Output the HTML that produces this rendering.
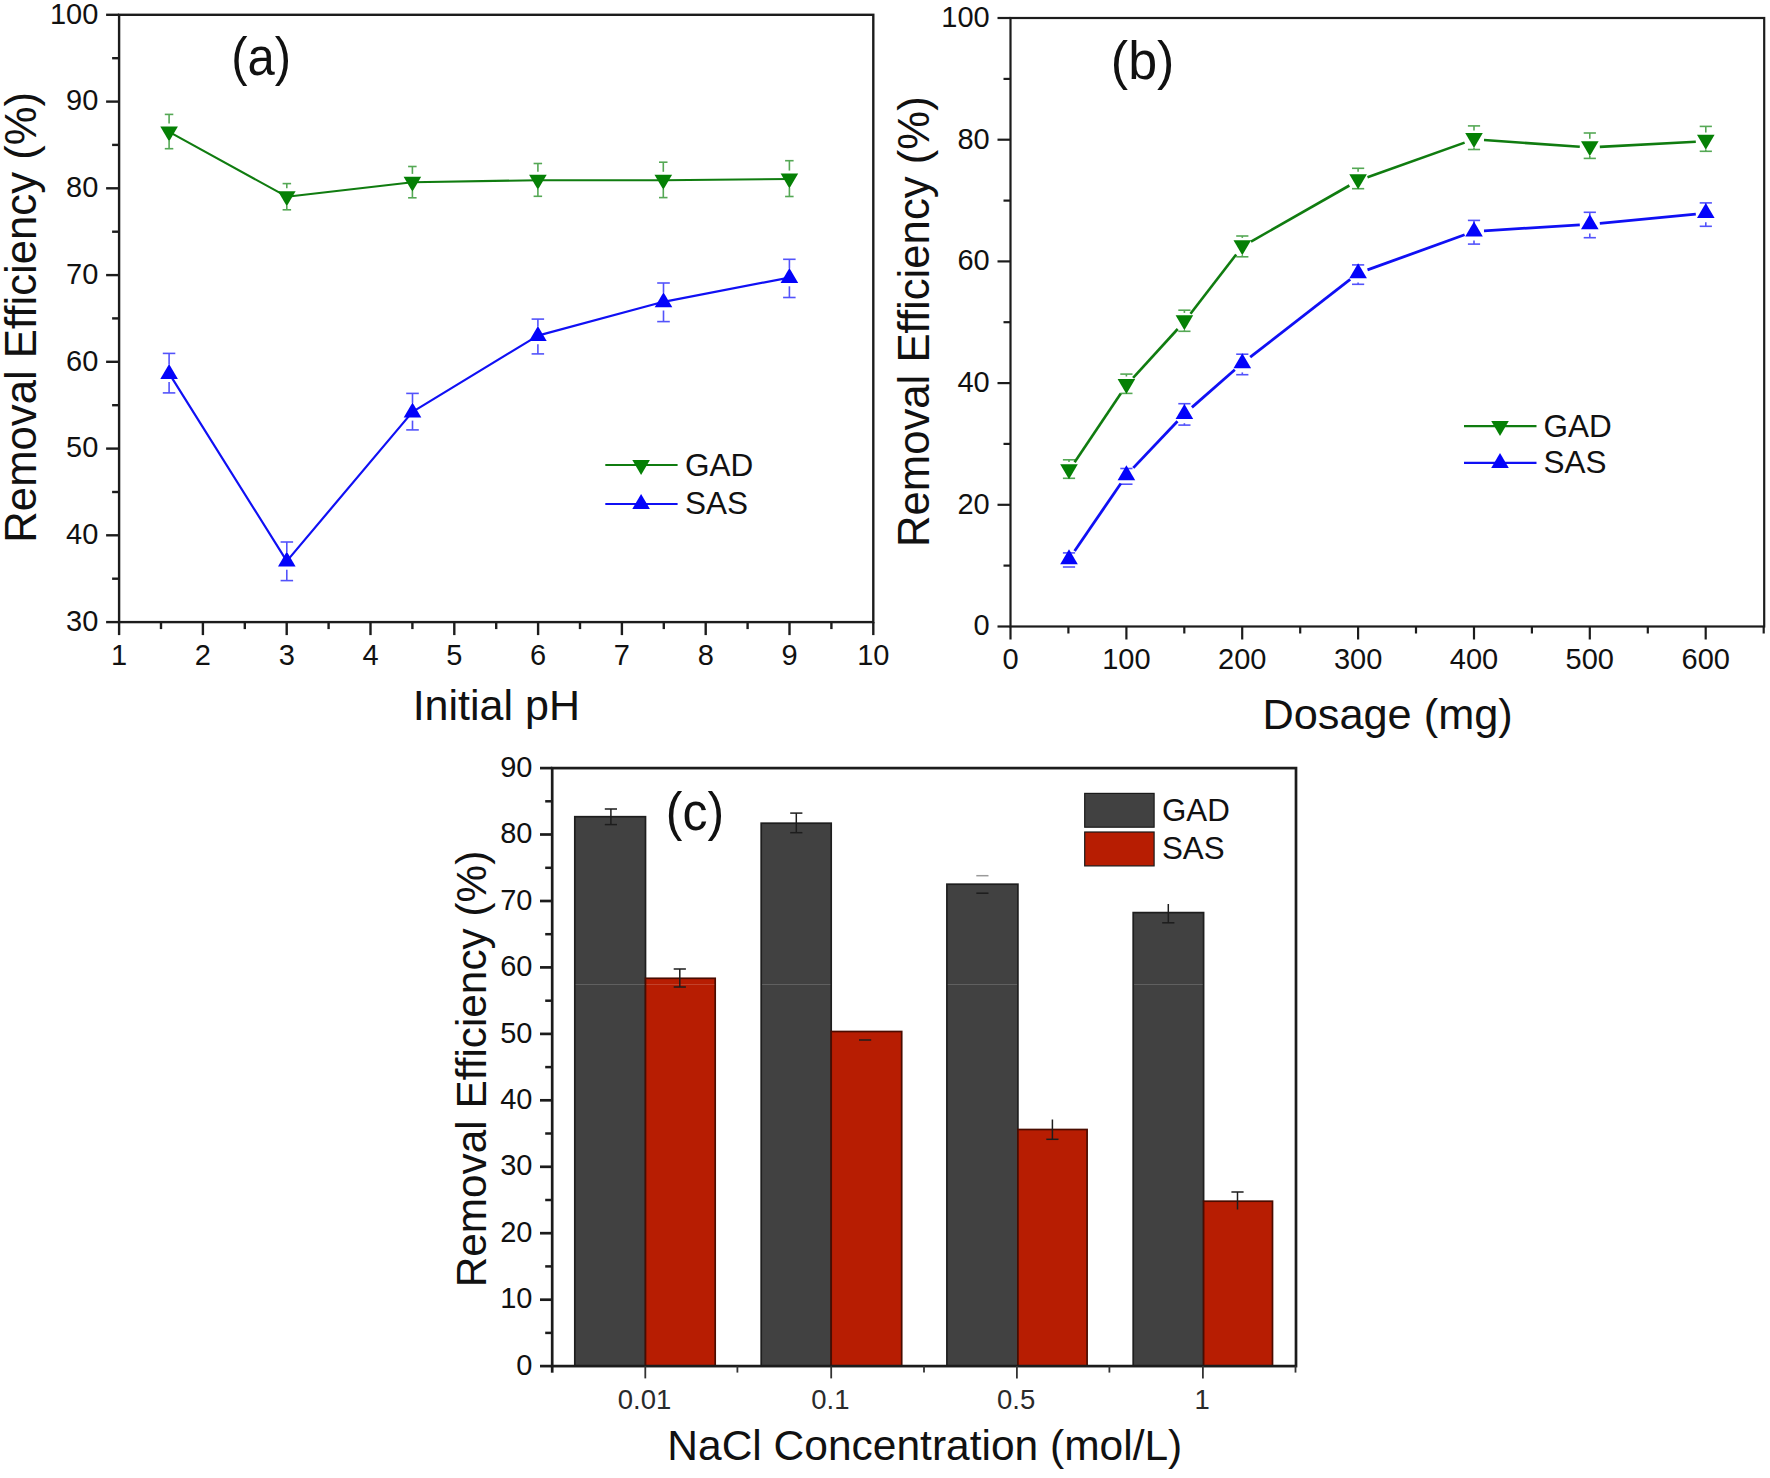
<!DOCTYPE html>
<html lang="en"><head><meta charset="utf-8"><title>Removal efficiency figure</title>
<style>
html,body{margin:0;padding:0;background:#fff;}
body{width:1770px;height:1478px;overflow:hidden;font-family:"Liberation Sans", sans-serif;}
svg{display:block;}
</style></head><body>
<svg width="1770" height="1478" viewBox="0 0 1770 1478" font-family='"Liberation Sans", sans-serif'>
<g id="panel-a">
<rect x="119.1" y="14.8" width="754.2" height="607.3" fill="none" stroke="#1c1c1c" stroke-width="2.4"/>
<line x1="106.1" y1="622.1" x2="119.1" y2="622.1" stroke="#1c1c1c" stroke-width="2.4" />
<text x="98.3" y="630.9" font-size="29" text-anchor="end" fill="#111" >30</text>
<line x1="112.1" y1="578.7" x2="119.1" y2="578.7" stroke="#1c1c1c" stroke-width="2.4" />
<line x1="106.1" y1="535.3" x2="119.1" y2="535.3" stroke="#1c1c1c" stroke-width="2.4" />
<text x="98.3" y="544.1" font-size="29" text-anchor="end" fill="#111" >40</text>
<line x1="112.1" y1="492.0" x2="119.1" y2="492.0" stroke="#1c1c1c" stroke-width="2.4" />
<line x1="106.1" y1="448.6" x2="119.1" y2="448.6" stroke="#1c1c1c" stroke-width="2.4" />
<text x="98.3" y="457.4" font-size="29" text-anchor="end" fill="#111" >50</text>
<line x1="112.1" y1="405.2" x2="119.1" y2="405.2" stroke="#1c1c1c" stroke-width="2.4" />
<line x1="106.1" y1="361.8" x2="119.1" y2="361.8" stroke="#1c1c1c" stroke-width="2.4" />
<text x="98.3" y="370.6" font-size="29" text-anchor="end" fill="#111" >60</text>
<line x1="112.1" y1="318.4" x2="119.1" y2="318.4" stroke="#1c1c1c" stroke-width="2.4" />
<line x1="106.1" y1="275.1" x2="119.1" y2="275.1" stroke="#1c1c1c" stroke-width="2.4" />
<text x="98.3" y="283.9" font-size="29" text-anchor="end" fill="#111" >70</text>
<line x1="112.1" y1="231.7" x2="119.1" y2="231.7" stroke="#1c1c1c" stroke-width="2.4" />
<line x1="106.1" y1="188.3" x2="119.1" y2="188.3" stroke="#1c1c1c" stroke-width="2.4" />
<text x="98.3" y="197.1" font-size="29" text-anchor="end" fill="#111" >80</text>
<line x1="112.1" y1="144.9" x2="119.1" y2="144.9" stroke="#1c1c1c" stroke-width="2.4" />
<line x1="106.1" y1="101.6" x2="119.1" y2="101.6" stroke="#1c1c1c" stroke-width="2.4" />
<text x="98.3" y="110.4" font-size="29" text-anchor="end" fill="#111" >90</text>
<line x1="112.1" y1="58.2" x2="119.1" y2="58.2" stroke="#1c1c1c" stroke-width="2.4" />
<line x1="106.1" y1="14.8" x2="119.1" y2="14.8" stroke="#1c1c1c" stroke-width="2.4" />
<text x="98.3" y="23.6" font-size="29" text-anchor="end" fill="#111" >100</text>
<line x1="119.1" y1="622.1" x2="119.1" y2="635.1" stroke="#1c1c1c" stroke-width="2.4" />
<text x="119.1" y="664.5" font-size="29" text-anchor="middle" fill="#111" >1</text>
<line x1="161.0" y1="622.1" x2="161.0" y2="629.1" stroke="#1c1c1c" stroke-width="2.4" />
<line x1="202.9" y1="622.1" x2="202.9" y2="635.1" stroke="#1c1c1c" stroke-width="2.4" />
<text x="202.9" y="664.5" font-size="29" text-anchor="middle" fill="#111" >2</text>
<line x1="244.8" y1="622.1" x2="244.8" y2="629.1" stroke="#1c1c1c" stroke-width="2.4" />
<line x1="286.7" y1="622.1" x2="286.7" y2="635.1" stroke="#1c1c1c" stroke-width="2.4" />
<text x="286.7" y="664.5" font-size="29" text-anchor="middle" fill="#111" >3</text>
<line x1="328.6" y1="622.1" x2="328.6" y2="629.1" stroke="#1c1c1c" stroke-width="2.4" />
<line x1="370.5" y1="622.1" x2="370.5" y2="635.1" stroke="#1c1c1c" stroke-width="2.4" />
<text x="370.5" y="664.5" font-size="29" text-anchor="middle" fill="#111" >4</text>
<line x1="412.4" y1="622.1" x2="412.4" y2="629.1" stroke="#1c1c1c" stroke-width="2.4" />
<line x1="454.3" y1="622.1" x2="454.3" y2="635.1" stroke="#1c1c1c" stroke-width="2.4" />
<text x="454.3" y="664.5" font-size="29" text-anchor="middle" fill="#111" >5</text>
<line x1="496.2" y1="622.1" x2="496.2" y2="629.1" stroke="#1c1c1c" stroke-width="2.4" />
<line x1="538.1" y1="622.1" x2="538.1" y2="635.1" stroke="#1c1c1c" stroke-width="2.4" />
<text x="538.1" y="664.5" font-size="29" text-anchor="middle" fill="#111" >6</text>
<line x1="580.0" y1="622.1" x2="580.0" y2="629.1" stroke="#1c1c1c" stroke-width="2.4" />
<line x1="621.9" y1="622.1" x2="621.9" y2="635.1" stroke="#1c1c1c" stroke-width="2.4" />
<text x="621.9" y="664.5" font-size="29" text-anchor="middle" fill="#111" >7</text>
<line x1="663.8" y1="622.1" x2="663.8" y2="629.1" stroke="#1c1c1c" stroke-width="2.4" />
<line x1="705.7" y1="622.1" x2="705.7" y2="635.1" stroke="#1c1c1c" stroke-width="2.4" />
<text x="705.7" y="664.5" font-size="29" text-anchor="middle" fill="#111" >8</text>
<line x1="747.6" y1="622.1" x2="747.6" y2="629.1" stroke="#1c1c1c" stroke-width="2.4" />
<line x1="789.5" y1="622.1" x2="789.5" y2="635.1" stroke="#1c1c1c" stroke-width="2.4" />
<text x="789.5" y="664.5" font-size="29" text-anchor="middle" fill="#111" >9</text>
<line x1="831.4" y1="622.1" x2="831.4" y2="629.1" stroke="#1c1c1c" stroke-width="2.4" />
<line x1="873.3" y1="622.1" x2="873.3" y2="635.1" stroke="#1c1c1c" stroke-width="2.4" />
<text x="873.3" y="664.5" font-size="29" text-anchor="middle" fill="#111" >10</text>
<text x="496.3" y="720.3" font-size="43" text-anchor="middle" fill="#111" >Initial pH</text>
<text transform="translate(35.6,317.3) rotate(-90)" font-size="43.7" text-anchor="middle" fill="#111">Removal Efficiency (%)</text>
<text transform="translate(261.2,74.7) scale(0.98,1.08)" font-size="50" text-anchor="middle" fill="#111">(a)</text>
<g stroke="#058005" stroke-width="1.6" opacity="0.68"><line x1="169.1" y1="114.4" x2="169.1" y2="123.5"/><line x1="169.1" y1="140.7" x2="169.1" y2="148.7"/><line x1="164.8" y1="114.4" x2="173.3" y2="114.4"/><line x1="164.8" y1="148.7" x2="173.3" y2="148.7"/></g>
<g stroke="#058005" stroke-width="1.6" opacity="0.68"><line x1="286.8" y1="183.6" x2="286.8" y2="188.3"/><line x1="286.8" y1="205.5" x2="286.8" y2="209.8"/><line x1="282.6" y1="183.6" x2="291.1" y2="183.6"/><line x1="282.6" y1="209.8" x2="291.1" y2="209.8"/></g>
<g stroke="#058005" stroke-width="1.6" opacity="0.68"><line x1="412.4" y1="166.5" x2="412.4" y2="173.9"/><line x1="412.4" y1="191.1" x2="412.4" y2="197.8"/><line x1="408.1" y1="166.5" x2="416.6" y2="166.5"/><line x1="408.1" y1="197.8" x2="416.6" y2="197.8"/></g>
<g stroke="#058005" stroke-width="1.6" opacity="0.68"><line x1="537.9" y1="163.5" x2="537.9" y2="171.8"/><line x1="537.9" y1="189.0" x2="537.9" y2="196.3"/><line x1="533.6" y1="163.5" x2="542.1" y2="163.5"/><line x1="533.6" y1="196.3" x2="542.1" y2="196.3"/></g>
<g stroke="#058005" stroke-width="1.6" opacity="0.68"><line x1="663.3" y1="162.2" x2="663.3" y2="171.8"/><line x1="663.3" y1="189.0" x2="663.3" y2="197.6"/><line x1="659.0" y1="162.2" x2="667.5" y2="162.2"/><line x1="659.0" y1="197.6" x2="667.5" y2="197.6"/></g>
<g stroke="#058005" stroke-width="1.6" opacity="0.68"><line x1="789.4" y1="160.7" x2="789.4" y2="170.6"/><line x1="789.4" y1="187.8" x2="789.4" y2="196.5"/><line x1="785.1" y1="160.7" x2="793.6" y2="160.7"/><line x1="785.1" y1="196.5" x2="793.6" y2="196.5"/></g>
<g stroke="#0303fa" stroke-width="1.6" opacity="0.68"><line x1="169.1" y1="353.4" x2="169.1" y2="364.4"/><line x1="169.1" y1="382.1" x2="169.1" y2="392.9"/><line x1="162.8" y1="353.4" x2="175.3" y2="353.4"/><line x1="162.8" y1="392.9" x2="175.3" y2="392.9"/></g>
<g stroke="#0303fa" stroke-width="1.6" opacity="0.68"><line x1="286.8" y1="542.0" x2="286.8" y2="552.1"/><line x1="286.8" y1="569.8" x2="286.8" y2="580.6"/><line x1="280.6" y1="542.0" x2="293.1" y2="542.0"/><line x1="280.6" y1="580.6" x2="293.1" y2="580.6"/></g>
<g stroke="#0303fa" stroke-width="1.6" opacity="0.68"><line x1="412.5" y1="393.4" x2="412.5" y2="402.9"/><line x1="412.5" y1="420.6" x2="412.5" y2="429.9"/><line x1="406.2" y1="393.4" x2="418.8" y2="393.4"/><line x1="406.2" y1="429.9" x2="418.8" y2="429.9"/></g>
<g stroke="#0303fa" stroke-width="1.6" opacity="0.68"><line x1="537.9" y1="319.1" x2="537.9" y2="326.6"/><line x1="537.9" y1="344.3" x2="537.9" y2="353.9"/><line x1="531.6" y1="319.1" x2="544.1" y2="319.1"/><line x1="531.6" y1="353.9" x2="544.1" y2="353.9"/></g>
<g stroke="#0303fa" stroke-width="1.6" opacity="0.68"><line x1="663.5" y1="283.0" x2="663.5" y2="292.8"/><line x1="663.5" y1="310.5" x2="663.5" y2="321.6"/><line x1="657.2" y1="283.0" x2="669.8" y2="283.0"/><line x1="657.2" y1="321.6" x2="669.8" y2="321.6"/></g>
<g stroke="#0303fa" stroke-width="1.6" opacity="0.68"><line x1="789.4" y1="259.3" x2="789.4" y2="268.6"/><line x1="789.4" y1="286.3" x2="789.4" y2="297.5"/><line x1="783.1" y1="259.3" x2="795.6" y2="259.3"/><line x1="783.1" y1="297.5" x2="795.6" y2="297.5"/></g>
<polyline fill="none" stroke="#107c10" stroke-width="2.1" stroke-linejoin="round" points="169.1,131.9 286.8,196.7 412.4,182.3 537.9,180.2 663.3,180.2 789.4,179.0"/>
<polyline fill="none" stroke="#1010f4" stroke-width="2.2" stroke-linejoin="round" points="169.1,373.4 286.8,561.1 412.5,411.9 537.9,335.6 663.5,301.8 789.4,277.6"/>
<polygon points="160.3,126.4 177.9,126.4 169.1,141.4" fill="#058005"/>
<polygon points="278.0,191.2 295.6,191.2 286.8,206.2" fill="#058005"/>
<polygon points="403.6,176.8 421.2,176.8 412.4,191.8" fill="#058005"/>
<polygon points="529.1,174.7 546.7,174.7 537.9,189.7" fill="#058005"/>
<polygon points="654.5,174.7 672.1,174.7 663.3,189.7" fill="#058005"/>
<polygon points="780.6,173.5 798.2,173.5 789.4,188.5" fill="#058005"/>
<polygon points="160.3,378.9 177.9,378.9 169.1,363.9" fill="#0303fa"/>
<polygon points="278.0,566.6 295.6,566.6 286.8,551.6" fill="#0303fa"/>
<polygon points="403.7,417.4 421.3,417.4 412.5,402.4" fill="#0303fa"/>
<polygon points="529.1,341.1 546.7,341.1 537.9,326.1" fill="#0303fa"/>
<polygon points="654.7,307.3 672.3,307.3 663.5,292.3" fill="#0303fa"/>
<polygon points="780.6,283.1 798.2,283.1 789.4,268.1" fill="#0303fa"/>
<line x1="605.3" y1="465.0" x2="677.6" y2="465.0" stroke="#107c10" stroke-width="2.2" />
<polygon points="632.3,460.0 649.9,460.0 641.1,475.0" fill="#058005"/>
<line x1="605.3" y1="504.0" x2="677.6" y2="504.0" stroke="#1010f4" stroke-width="2.2" />
<polygon points="632.3,509.0 649.9,509.0 641.1,494.0" fill="#0303fa"/>
<text x="685.0" y="475.8" font-size="31.5" text-anchor="start" fill="#111" >GAD</text>
<text x="685.0" y="514.2" font-size="31.5" text-anchor="start" fill="#111" >SAS</text>
</g>
<g id="panel-b">
<rect x="1010.5" y="18.0" width="753.7" height="608.5" fill="none" stroke="#1c1c1c" stroke-width="2.2"/>
<line x1="997.5" y1="626.5" x2="1010.5" y2="626.5" stroke="#1c1c1c" stroke-width="2.2" />
<text x="989.7" y="635.3" font-size="29" text-anchor="end" fill="#111" >0</text>
<line x1="1003.5" y1="565.6" x2="1010.5" y2="565.6" stroke="#1c1c1c" stroke-width="2.2" />
<line x1="997.5" y1="504.8" x2="1010.5" y2="504.8" stroke="#1c1c1c" stroke-width="2.2" />
<text x="989.7" y="513.6" font-size="29" text-anchor="end" fill="#111" >20</text>
<line x1="1003.5" y1="443.9" x2="1010.5" y2="443.9" stroke="#1c1c1c" stroke-width="2.2" />
<line x1="997.5" y1="383.1" x2="1010.5" y2="383.1" stroke="#1c1c1c" stroke-width="2.2" />
<text x="989.7" y="391.9" font-size="29" text-anchor="end" fill="#111" >40</text>
<line x1="1003.5" y1="322.2" x2="1010.5" y2="322.2" stroke="#1c1c1c" stroke-width="2.2" />
<line x1="997.5" y1="261.4" x2="1010.5" y2="261.4" stroke="#1c1c1c" stroke-width="2.2" />
<text x="989.7" y="270.2" font-size="29" text-anchor="end" fill="#111" >60</text>
<line x1="1003.5" y1="200.6" x2="1010.5" y2="200.6" stroke="#1c1c1c" stroke-width="2.2" />
<line x1="997.5" y1="139.7" x2="1010.5" y2="139.7" stroke="#1c1c1c" stroke-width="2.2" />
<text x="989.7" y="148.5" font-size="29" text-anchor="end" fill="#111" >80</text>
<line x1="1003.5" y1="78.9" x2="1010.5" y2="78.9" stroke="#1c1c1c" stroke-width="2.2" />
<line x1="997.5" y1="18.0" x2="1010.5" y2="18.0" stroke="#1c1c1c" stroke-width="2.2" />
<text x="989.7" y="26.8" font-size="29" text-anchor="end" fill="#111" >100</text>
<line x1="1010.5" y1="626.5" x2="1010.5" y2="639.5" stroke="#1c1c1c" stroke-width="2.2" />
<text x="1010.5" y="668.9" font-size="29" text-anchor="middle" fill="#111" >0</text>
<line x1="1068.4" y1="626.5" x2="1068.4" y2="633.5" stroke="#1c1c1c" stroke-width="2.2" />
<line x1="1126.4" y1="626.5" x2="1126.4" y2="639.5" stroke="#1c1c1c" stroke-width="2.2" />
<text x="1126.4" y="668.9" font-size="29" text-anchor="middle" fill="#111" >100</text>
<line x1="1184.3" y1="626.5" x2="1184.3" y2="633.5" stroke="#1c1c1c" stroke-width="2.2" />
<line x1="1242.2" y1="626.5" x2="1242.2" y2="639.5" stroke="#1c1c1c" stroke-width="2.2" />
<text x="1242.2" y="668.9" font-size="29" text-anchor="middle" fill="#111" >200</text>
<line x1="1300.2" y1="626.5" x2="1300.2" y2="633.5" stroke="#1c1c1c" stroke-width="2.2" />
<line x1="1358.1" y1="626.5" x2="1358.1" y2="639.5" stroke="#1c1c1c" stroke-width="2.2" />
<text x="1358.1" y="668.9" font-size="29" text-anchor="middle" fill="#111" >300</text>
<line x1="1416.0" y1="626.5" x2="1416.0" y2="633.5" stroke="#1c1c1c" stroke-width="2.2" />
<line x1="1474.0" y1="626.5" x2="1474.0" y2="639.5" stroke="#1c1c1c" stroke-width="2.2" />
<text x="1474.0" y="668.9" font-size="29" text-anchor="middle" fill="#111" >400</text>
<line x1="1531.9" y1="626.5" x2="1531.9" y2="633.5" stroke="#1c1c1c" stroke-width="2.2" />
<line x1="1589.8" y1="626.5" x2="1589.8" y2="639.5" stroke="#1c1c1c" stroke-width="2.2" />
<text x="1589.8" y="668.9" font-size="29" text-anchor="middle" fill="#111" >500</text>
<line x1="1647.8" y1="626.5" x2="1647.8" y2="633.5" stroke="#1c1c1c" stroke-width="2.2" />
<line x1="1705.7" y1="626.5" x2="1705.7" y2="639.5" stroke="#1c1c1c" stroke-width="2.2" />
<text x="1705.7" y="668.9" font-size="29" text-anchor="middle" fill="#111" >600</text>
<line x1="1763.7" y1="626.5" x2="1763.7" y2="633.5" stroke="#1c1c1c" stroke-width="2.2" />
<text x="1387.6" y="729.2" font-size="43.3" text-anchor="middle" fill="#111" >Dosage (mg)</text>
<text transform="translate(928.7,321.7) rotate(-90)" font-size="43.7" text-anchor="middle" fill="#111">Removal Efficiency (%)</text>
<text transform="translate(1142.6,78.6) scale(1.04,1.08)" font-size="50" text-anchor="middle" fill="#111">(b)</text>
<g stroke="#058005" stroke-width="1.6" opacity="0.68"><line x1="1069.0" y1="459.8" x2="1069.0" y2="461.9"/><line x1="1062.9" y1="459.8" x2="1075.1" y2="459.8"/><line x1="1062.9" y1="478.3" x2="1075.1" y2="478.3"/></g>
<g stroke="#058005" stroke-width="1.6" opacity="0.68"><line x1="1126.4" y1="374.1" x2="1126.4" y2="376.5"/><line x1="1120.3" y1="374.1" x2="1132.5" y2="374.1"/><line x1="1120.3" y1="393.4" x2="1132.5" y2="393.4"/></g>
<g stroke="#058005" stroke-width="1.6" opacity="0.68"><line x1="1184.4" y1="310.2" x2="1184.4" y2="312.9"/><line x1="1184.4" y1="330.1" x2="1184.4" y2="331.3"/><line x1="1178.3" y1="310.2" x2="1190.5" y2="310.2"/><line x1="1178.3" y1="331.3" x2="1190.5" y2="331.3"/></g>
<g stroke="#058005" stroke-width="1.6" opacity="0.68"><line x1="1242.3" y1="236.0" x2="1242.3" y2="237.9"/><line x1="1242.3" y1="255.1" x2="1242.3" y2="256.8"/><line x1="1236.2" y1="236.0" x2="1248.4" y2="236.0"/><line x1="1236.2" y1="256.8" x2="1248.4" y2="256.8"/></g>
<g stroke="#058005" stroke-width="1.6" opacity="0.68"><line x1="1358.1" y1="168.3" x2="1358.1" y2="171.8"/><line x1="1352.0" y1="168.3" x2="1364.2" y2="168.3"/><line x1="1352.0" y1="188.7" x2="1364.2" y2="188.7"/></g>
<g stroke="#058005" stroke-width="1.6" opacity="0.68"><line x1="1474.0" y1="125.9" x2="1474.0" y2="130.6"/><line x1="1474.0" y1="147.8" x2="1474.0" y2="149.5"/><line x1="1467.9" y1="125.9" x2="1480.1" y2="125.9"/><line x1="1467.9" y1="149.5" x2="1480.1" y2="149.5"/></g>
<g stroke="#058005" stroke-width="1.6" opacity="0.68"><line x1="1589.8" y1="133.0" x2="1589.8" y2="138.8"/><line x1="1589.8" y1="156.0" x2="1589.8" y2="158.4"/><line x1="1583.7" y1="133.0" x2="1595.9" y2="133.0"/><line x1="1583.7" y1="158.4" x2="1595.9" y2="158.4"/></g>
<g stroke="#058005" stroke-width="1.6" opacity="0.68"><line x1="1705.8" y1="126.4" x2="1705.8" y2="132.4"/><line x1="1705.8" y1="149.6" x2="1705.8" y2="151.3"/><line x1="1699.7" y1="126.4" x2="1711.9" y2="126.4"/><line x1="1699.7" y1="151.3" x2="1711.9" y2="151.3"/></g>
<g stroke="#0303fa" stroke-width="1.6" opacity="0.68"><line x1="1062.9" y1="552.9" x2="1075.1" y2="552.9"/><line x1="1062.9" y1="567.0" x2="1075.1" y2="567.0"/></g>
<g stroke="#0303fa" stroke-width="1.6" opacity="0.68"><line x1="1120.3" y1="468.5" x2="1132.5" y2="468.5"/><line x1="1120.3" y1="484.2" x2="1132.5" y2="484.2"/></g>
<g stroke="#0303fa" stroke-width="1.6" opacity="0.68"><line x1="1184.4" y1="403.7" x2="1184.4" y2="405.5"/><line x1="1184.4" y1="423.2" x2="1184.4" y2="425.1"/><line x1="1178.3" y1="403.7" x2="1190.5" y2="403.7"/><line x1="1178.3" y1="425.1" x2="1190.5" y2="425.1"/></g>
<g stroke="#0303fa" stroke-width="1.6" opacity="0.68"><line x1="1242.3" y1="354.2" x2="1242.3" y2="354.7"/><line x1="1242.3" y1="372.4" x2="1242.3" y2="374.7"/><line x1="1236.2" y1="354.2" x2="1248.4" y2="354.2"/><line x1="1236.2" y1="374.7" x2="1248.4" y2="374.7"/></g>
<g stroke="#0303fa" stroke-width="1.6" opacity="0.68"><line x1="1358.1" y1="282.5" x2="1358.1" y2="284.3"/><line x1="1352.0" y1="264.9" x2="1364.2" y2="264.9"/><line x1="1352.0" y1="284.3" x2="1364.2" y2="284.3"/></g>
<g stroke="#0303fa" stroke-width="1.6" opacity="0.68"><line x1="1474.0" y1="220.4" x2="1474.0" y2="222.9"/><line x1="1474.0" y1="240.6" x2="1474.0" y2="244.1"/><line x1="1467.9" y1="220.4" x2="1480.1" y2="220.4"/><line x1="1467.9" y1="244.1" x2="1480.1" y2="244.1"/></g>
<g stroke="#0303fa" stroke-width="1.6" opacity="0.68"><line x1="1589.8" y1="212.3" x2="1589.8" y2="215.8"/><line x1="1589.8" y1="233.5" x2="1589.8" y2="237.7"/><line x1="1583.7" y1="212.3" x2="1595.9" y2="212.3"/><line x1="1583.7" y1="237.7" x2="1595.9" y2="237.7"/></g>
<g stroke="#0303fa" stroke-width="1.6" opacity="0.68"><line x1="1705.8" y1="202.9" x2="1705.8" y2="204.6"/><line x1="1705.8" y1="222.3" x2="1705.8" y2="226.3"/><line x1="1699.7" y1="202.9" x2="1711.9" y2="202.9"/><line x1="1699.7" y1="226.3" x2="1711.9" y2="226.3"/></g>
<line x1="1074.6" y1="462.3" x2="1120.8" y2="393.5" stroke="#107c10" stroke-width="2.6" />
<line x1="1133.1" y1="377.8" x2="1177.7" y2="329.0" stroke="#107c10" stroke-width="2.6" />
<line x1="1190.5" y1="313.7" x2="1236.2" y2="254.5" stroke="#107c10" stroke-width="2.6" />
<line x1="1251.0" y1="241.6" x2="1349.4" y2="185.5" stroke="#107c10" stroke-width="2.6" />
<line x1="1367.5" y1="177.2" x2="1464.6" y2="142.6" stroke="#107c10" stroke-width="2.6" />
<line x1="1484.0" y1="140.0" x2="1579.8" y2="146.8" stroke="#107c10" stroke-width="2.6" />
<line x1="1599.8" y1="146.9" x2="1695.8" y2="141.7" stroke="#107c10" stroke-width="2.6" />
<line x1="1074.6" y1="551.0" x2="1120.8" y2="483.5" stroke="#1010f4" stroke-width="2.8" />
<line x1="1133.3" y1="467.9" x2="1177.5" y2="421.3" stroke="#1010f4" stroke-width="2.8" />
<line x1="1191.9" y1="407.4" x2="1234.8" y2="369.8" stroke="#1010f4" stroke-width="2.8" />
<line x1="1250.2" y1="357.1" x2="1350.2" y2="279.4" stroke="#1010f4" stroke-width="2.8" />
<line x1="1367.5" y1="269.9" x2="1464.6" y2="234.8" stroke="#1010f4" stroke-width="2.8" />
<line x1="1484.0" y1="230.8" x2="1579.8" y2="224.9" stroke="#1010f4" stroke-width="2.8" />
<line x1="1599.8" y1="223.3" x2="1695.8" y2="214.1" stroke="#1010f4" stroke-width="2.8" />
<polygon points="1060.2,464.3 1077.8,464.3 1069.0,479.3" fill="#058005"/>
<polygon points="1117.6,378.9 1135.2,378.9 1126.4,393.9" fill="#058005"/>
<polygon points="1175.6,315.3 1193.2,315.3 1184.4,330.3" fill="#058005"/>
<polygon points="1233.5,240.3 1251.1,240.3 1242.3,255.3" fill="#058005"/>
<polygon points="1349.3,174.2 1366.9,174.2 1358.1,189.2" fill="#058005"/>
<polygon points="1465.2,133.0 1482.8,133.0 1474.0,148.0" fill="#058005"/>
<polygon points="1581.0,141.2 1598.6,141.2 1589.8,156.2" fill="#058005"/>
<polygon points="1697.0,134.8 1714.6,134.8 1705.8,149.8" fill="#058005"/>
<polygon points="1060.2,564.3 1077.8,564.3 1069.0,549.3" fill="#0303fa"/>
<polygon points="1117.6,480.2 1135.2,480.2 1126.4,465.2" fill="#0303fa"/>
<polygon points="1175.6,419.0 1193.2,419.0 1184.4,404.0" fill="#0303fa"/>
<polygon points="1233.5,368.2 1251.1,368.2 1242.3,353.2" fill="#0303fa"/>
<polygon points="1349.3,278.3 1366.9,278.3 1358.1,263.3" fill="#0303fa"/>
<polygon points="1465.2,236.4 1482.8,236.4 1474.0,221.4" fill="#0303fa"/>
<polygon points="1581.0,229.3 1598.6,229.3 1589.8,214.3" fill="#0303fa"/>
<polygon points="1697.0,218.1 1714.6,218.1 1705.8,203.1" fill="#0303fa"/>
<line x1="1464.0" y1="426.1" x2="1536.5" y2="426.1" stroke="#107c10" stroke-width="2.2" />
<polygon points="1491.2,421.1 1508.8,421.1 1500.0,436.1" fill="#058005"/>
<line x1="1464.0" y1="462.9" x2="1536.5" y2="462.9" stroke="#1010f4" stroke-width="2.2" />
<polygon points="1491.2,467.9 1508.8,467.9 1500.0,452.9" fill="#0303fa"/>
<text x="1543.5" y="436.6" font-size="31.5" text-anchor="start" fill="#111" >GAD</text>
<text x="1543.5" y="473.3" font-size="31.5" text-anchor="start" fill="#111" >SAS</text>
</g>
<g id="panel-c">
<rect x="574.8" y="816.7" width="70.7" height="549.4" fill="#414141" stroke="#1e1e1e" stroke-width="1.7"/>
<rect x="645.5" y="978.3" width="69.7" height="387.8" fill="#b71d02" stroke="#4a0c00" stroke-width="1.7"/>
<rect x="761.2" y="823.2" width="70.0" height="542.9" fill="#414141" stroke="#1e1e1e" stroke-width="1.7"/>
<rect x="831.2" y="1031.5" width="70.5" height="334.6" fill="#b71d02" stroke="#4a0c00" stroke-width="1.7"/>
<rect x="946.9" y="884.2" width="71.0" height="481.9" fill="#414141" stroke="#1e1e1e" stroke-width="1.7"/>
<rect x="1017.9" y="1129.5" width="69.2" height="236.6" fill="#b71d02" stroke="#4a0c00" stroke-width="1.7"/>
<rect x="1133.2" y="912.6" width="70.4" height="453.5" fill="#414141" stroke="#1e1e1e" stroke-width="1.7"/>
<rect x="1203.6" y="1201.2" width="68.9" height="164.9" fill="#b71d02" stroke="#4a0c00" stroke-width="1.7"/>
<line x1="575.6" y1="984.5" x2="644.7" y2="984.5" stroke="#ffffff" stroke-width="1" opacity="0.16"/>
<line x1="646.3" y1="984.5" x2="714.4" y2="984.5" stroke="#ffffff" stroke-width="1" opacity="0.16"/>
<line x1="762.0" y1="984.5" x2="830.4" y2="984.5" stroke="#ffffff" stroke-width="1" opacity="0.16"/>
<line x1="947.7" y1="984.5" x2="1017.1" y2="984.5" stroke="#ffffff" stroke-width="1" opacity="0.16"/>
<line x1="1134.0" y1="984.5" x2="1202.8" y2="984.5" stroke="#ffffff" stroke-width="1" opacity="0.16"/>
<line x1="610.9" y1="809.0" x2="610.9" y2="824.6" stroke="#1d1d1d" stroke-width="1.5" />
<line x1="604.8" y1="809.0" x2="617.0" y2="809.0" stroke="#1d1d1d" stroke-width="1.5" />
<line x1="604.8" y1="824.6" x2="617.0" y2="824.6" stroke="#1d1d1d" stroke-width="1.5" />
<line x1="679.8" y1="969.0" x2="679.8" y2="987.0" stroke="#1d1d1d" stroke-width="1.5" />
<line x1="673.7" y1="969.0" x2="685.9" y2="969.0" stroke="#1d1d1d" stroke-width="1.5" />
<line x1="673.7" y1="987.0" x2="685.9" y2="987.0" stroke="#1d1d1d" stroke-width="1.5" />
<line x1="796.3" y1="813.1" x2="796.3" y2="832.7" stroke="#1d1d1d" stroke-width="1.5" />
<line x1="790.2" y1="813.1" x2="802.4" y2="813.1" stroke="#1d1d1d" stroke-width="1.5" />
<line x1="790.2" y1="832.7" x2="802.4" y2="832.7" stroke="#1d1d1d" stroke-width="1.5" />
<line x1="859.0" y1="1040.0" x2="871.2" y2="1040.0" stroke="#1d1d1d" stroke-width="1.5" />
<line x1="976.3" y1="875.7" x2="988.5" y2="875.7" stroke="#9a9a9a" stroke-width="1.5" />
<line x1="976.3" y1="893.2" x2="988.5" y2="893.2" stroke="#1d1d1d" stroke-width="1.5" />
<line x1="1052.4" y1="1119.5" x2="1052.4" y2="1139.3" stroke="#1d1d1d" stroke-width="1.5" />
<line x1="1046.3" y1="1139.3" x2="1058.5" y2="1139.3" stroke="#1d1d1d" stroke-width="1.5" />
<line x1="1168.3" y1="904.0" x2="1168.3" y2="922.8" stroke="#1d1d1d" stroke-width="1.5" />
<line x1="1162.2" y1="922.8" x2="1174.4" y2="922.8" stroke="#1d1d1d" stroke-width="1.5" />
<line x1="1237.5" y1="1192.0" x2="1237.5" y2="1209.5" stroke="#1d1d1d" stroke-width="1.5" />
<line x1="1231.4" y1="1192.0" x2="1243.6" y2="1192.0" stroke="#1d1d1d" stroke-width="1.5" />
<rect x="552.2" y="768.1" width="743.8" height="598.0" fill="none" stroke="#1c1c1c" stroke-width="2.7"/>
<line x1="540.0" y1="1366.1" x2="552.2" y2="1366.1" stroke="#1c1c1c" stroke-width="2.7" />
<text x="532.4" y="1374.7" font-size="29" text-anchor="end" fill="#111" >0</text>
<line x1="545.2" y1="1332.9" x2="552.2" y2="1332.9" stroke="#1c1c1c" stroke-width="2.5" />
<line x1="540.0" y1="1299.7" x2="552.2" y2="1299.7" stroke="#1c1c1c" stroke-width="2.7" />
<text x="532.4" y="1308.3" font-size="29" text-anchor="end" fill="#111" >10</text>
<line x1="545.2" y1="1266.4" x2="552.2" y2="1266.4" stroke="#1c1c1c" stroke-width="2.5" />
<line x1="540.0" y1="1233.2" x2="552.2" y2="1233.2" stroke="#1c1c1c" stroke-width="2.7" />
<text x="532.4" y="1241.8" font-size="29" text-anchor="end" fill="#111" >20</text>
<line x1="545.2" y1="1200.0" x2="552.2" y2="1200.0" stroke="#1c1c1c" stroke-width="2.5" />
<line x1="540.0" y1="1166.8" x2="552.2" y2="1166.8" stroke="#1c1c1c" stroke-width="2.7" />
<text x="532.4" y="1175.4" font-size="29" text-anchor="end" fill="#111" >30</text>
<line x1="545.2" y1="1133.5" x2="552.2" y2="1133.5" stroke="#1c1c1c" stroke-width="2.5" />
<line x1="540.0" y1="1100.3" x2="552.2" y2="1100.3" stroke="#1c1c1c" stroke-width="2.7" />
<text x="532.4" y="1108.9" font-size="29" text-anchor="end" fill="#111" >40</text>
<line x1="545.2" y1="1067.1" x2="552.2" y2="1067.1" stroke="#1c1c1c" stroke-width="2.5" />
<line x1="540.0" y1="1033.9" x2="552.2" y2="1033.9" stroke="#1c1c1c" stroke-width="2.7" />
<text x="532.4" y="1042.5" font-size="29" text-anchor="end" fill="#111" >50</text>
<line x1="545.2" y1="1000.7" x2="552.2" y2="1000.7" stroke="#1c1c1c" stroke-width="2.5" />
<line x1="540.0" y1="967.4" x2="552.2" y2="967.4" stroke="#1c1c1c" stroke-width="2.7" />
<text x="532.4" y="976.0" font-size="29" text-anchor="end" fill="#111" >60</text>
<line x1="545.2" y1="934.2" x2="552.2" y2="934.2" stroke="#1c1c1c" stroke-width="2.5" />
<line x1="540.0" y1="901.0" x2="552.2" y2="901.0" stroke="#1c1c1c" stroke-width="2.7" />
<text x="532.4" y="909.6" font-size="29" text-anchor="end" fill="#111" >70</text>
<line x1="545.2" y1="867.8" x2="552.2" y2="867.8" stroke="#1c1c1c" stroke-width="2.5" />
<line x1="540.0" y1="834.5" x2="552.2" y2="834.5" stroke="#1c1c1c" stroke-width="2.7" />
<text x="532.4" y="843.1" font-size="29" text-anchor="end" fill="#111" >80</text>
<line x1="545.2" y1="801.3" x2="552.2" y2="801.3" stroke="#1c1c1c" stroke-width="2.5" />
<line x1="540.0" y1="768.1" x2="552.2" y2="768.1" stroke="#1c1c1c" stroke-width="2.7" />
<text x="532.4" y="776.7" font-size="29" text-anchor="end" fill="#111" >90</text>
<line x1="645.3" y1="1366.1" x2="645.3" y2="1378.4" stroke="#333" stroke-width="1.8" />
<text x="644.5" y="1408.9" font-size="27.5" text-anchor="middle" fill="#2a2a2a" >0.01</text>
<line x1="831.2" y1="1366.1" x2="831.2" y2="1378.4" stroke="#333" stroke-width="1.8" />
<text x="830.4" y="1408.9" font-size="27.5" text-anchor="middle" fill="#2a2a2a" >0.1</text>
<line x1="1016.9" y1="1366.1" x2="1016.9" y2="1378.4" stroke="#333" stroke-width="1.8" />
<text x="1016.1" y="1408.9" font-size="27.5" text-anchor="middle" fill="#2a2a2a" >0.5</text>
<line x1="1202.9" y1="1366.1" x2="1202.9" y2="1378.4" stroke="#333" stroke-width="1.8" />
<text x="1202.1" y="1408.9" font-size="27.5" text-anchor="middle" fill="#2a2a2a" >1</text>
<line x1="737.4" y1="1366.1" x2="737.4" y2="1372.6" stroke="#333" stroke-width="1.8" />
<line x1="924.0" y1="1366.1" x2="924.0" y2="1372.6" stroke="#333" stroke-width="1.8" />
<line x1="1109.4" y1="1366.1" x2="1109.4" y2="1372.6" stroke="#333" stroke-width="1.8" />
<line x1="1295.5" y1="1366.1" x2="1295.5" y2="1372.6" stroke="#333" stroke-width="1.8" />
<line x1="552.2" y1="1366.1" x2="552.2" y2="1372.7" stroke="#1c1c1c" stroke-width="2.7" />
<text x="924.8" y="1459.7" font-size="42.5" text-anchor="middle" fill="#111" >NaCl Concentration (mol/L)</text>
<text transform="translate(486.2,1069) rotate(-90)" font-size="42.3" text-anchor="middle" fill="#111">Removal Efficiency (%)</text>
<text transform="translate(694.9,830.3) scale(1.0,1.08)" font-size="50" text-anchor="middle" fill="#111">(c)</text>
<rect x="1084.7" y="793.4" width="69.4" height="33.8" fill="#414141" stroke="#1a1a1a" stroke-width="1.2"/>
<rect x="1084.7" y="832" width="69.4" height="33.9" fill="#b71d02" stroke="#1a1a1a" stroke-width="1.2"/>
<text x="1162.0" y="820.9" font-size="31.3" text-anchor="start" fill="#111" >GAD</text>
<text x="1162.0" y="858.7" font-size="31.3" text-anchor="start" fill="#111" >SAS</text>
</g>
</svg>
</body></html>
